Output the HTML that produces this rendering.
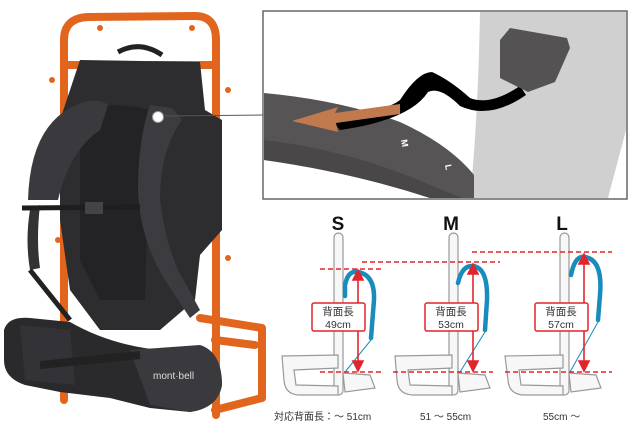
<!DOCTYPE html>
<html><head><meta charset="utf-8"><style>
body{margin:0;background:#fff}
svg{display:block}
text{font-family:"Liberation Sans","Noto Sans CJK JP",sans-serif}
</style></head><body>
<svg width="640" height="437" viewBox="0 0 640 437" xmlns="http://www.w3.org/2000/svg">
<!-- Backpack frame -->
<g fill="none" stroke="#e2651e" stroke-width="8" stroke-linejoin="round" stroke-linecap="round">
<path d="M64 400 L64 40 Q64 18 88 17 L195 16 Q216 16 216 40 L216 415"/>
<path d="M66 65 L212 65"/>
<path d="M200 318 L262 328 L262 398 L215 410"/>
<path d="M215 340 L255 345"/>
</g>
<g fill="#e2651e"><circle cx="52" cy="80" r="3"/><circle cx="228" cy="90" r="3"/><circle cx="58" cy="240" r="3"/><circle cx="228" cy="258" r="3"/><circle cx="100" cy="28" r="3"/><circle cx="192" cy="28" r="3"/></g>
<!-- pack body -->
<path d="M118 52 Q140 40 162 55" fill="none" stroke="#222" stroke-width="5"/>
<path d="M80 60 L200 62 L205 110 L222 120 L222 230 L200 255 L195 300 L160 330 L100 330 L70 290 L60 220 L60 120 Z" fill="#2d2d30"/>
<path d="M80 110 Q110 100 150 110 L145 300 L100 300 L80 260 Z" fill="#232325"/>
<!-- shoulder straps -->
<path d="M28 200 Q30 130 70 108 Q95 95 108 105 L100 130 Q70 150 58 200 Z" fill="#3a3a3e"/>
<path d="M30 210 Q25 240 30 270 L40 268 Q36 240 40 205 Z" fill="#333"/>
<path d="M150 105 L172 108 L182 120 Q160 150 160 200 Q165 240 178 270 L200 310 L190 318 L165 280 Q140 240 138 190 Q138 140 150 105 Z" fill="#3c3c40"/>
<path d="M30 270 L70 320" stroke="#222" stroke-width="5"/>
<path d="M22 208 L140 207" stroke="#1e1e1e" stroke-width="5"/>
<rect x="85" y="202" width="18" height="12" fill="#444"/>
<!-- hip belt -->
<path d="M4 330 Q8 316 30 318 L70 322 Q110 345 160 350 L200 348 Q222 355 222 385 Q218 408 190 412 L150 408 L110 398 L60 392 L25 385 Q4 378 4 360 Z" fill="#2a2a2c"/>
<path d="M20 325 L70 330 L75 385 L25 380 Z" fill="#333337"/>
<path d="M130 350 L200 345 Q222 352 222 385 Q218 408 190 412 L150 405 Z" fill="#3a3a3e"/>
<path d="M40 365 L140 355" stroke="#222" stroke-width="8"/>
<text x="153" y="379" font-size="10" fill="#ddd" font-family="Liberation Serif,serif">mont·bell</text>
<circle cx="158" cy="117" r="5.5" fill="#fff" stroke="#999"/>
<line x1="163" y1="116" x2="263" y2="115" stroke="#555" stroke-width="1"/>

<!-- detail box -->
<rect x="263" y="11" width="364" height="188" fill="#fff" stroke="#666" stroke-width="1.5"/>
<path d="M480 12 L626 12 L626 130 L608 198 L470 198 Q478 120 480 12 Z" fill="#d0d0d0"/>
<path d="M264 93 Q340 100 400 122 Q450 145 474 175 L474 198 L430 198 Q350 172 264 160 Z" fill="#575455"/>
<path d="M264 140 Q350 150 430 185 L462 198 L430 198 Q350 172 264 160 Z" fill="#4a4748"/>
<path d="M330 118 Q385 112 400 100 Q418 72 432 72 Q450 80 470 98 Q490 106 520 86 L526 95 Q490 120 460 106 Q440 86 428 92 Q410 120 340 130 Z" fill="#000"/>
<path d="M500 40 L510 28 L567 38 L570 48 L555 82 L528 92 L500 78 Z" fill="#555253"/>
<path d="M292 121 L338 107 L335 113 L400 104 L400 114 L336 123 L338 132 Z" fill="#c07a4e"/>
<text x="401" y="140" font-size="9" font-weight="bold" fill="#fff" transform="rotate(80 401 140)">M</text>
<text x="445" y="165" font-size="9" font-weight="bold" fill="#fff" transform="rotate(80 445 165)">L</text>

<!-- size diagrams -->
<g stroke="#999" stroke-width="1.2" fill="#f7f7f7">
<rect x="334" y="233" width="9" height="162" rx="4.5"/>
<path d="M282 356 L338 355 L338 368 L294 370 L296 385 L338 386 L338 395 L300 395 Q285 395 284 380 Z"/>
<path d="M343 373 L370 375 L375 388 L345 392 Z"/>
<rect x="449" y="233" width="9" height="162" rx="4.5"/>
<path d="M395 356 L452 355 L452 368 L408 370 L410 385 L452 386 L452 395 L414 395 Q398 395 397 380 Z"/>
<path d="M458 373 L485 375 L490 388 L460 392 Z"/>
<rect x="560" y="233" width="9" height="162" rx="4.5"/>
<path d="M505 356 L563 355 L563 368 L519 370 L521 385 L563 386 L563 395 L525 395 Q509 395 508 380 Z"/>
<path d="M569 373 L596 375 L601 388 L571 392 Z"/>
</g>
<g fill="none" stroke="#1a8bbd" stroke-width="4.5" stroke-linecap="round">
<path d="M345 296 L345 285 Q348 270 358 272 Q375 275 374 300 L371 338"/>
<path d="M458 283 Q462 265 473 266 Q488 268 487 300 L485 330"/>
<path d="M571 275 Q575 255 585 257 Q603 260 600 295 L598 320"/>
</g>
<g stroke="#1a8bbd" stroke-width="1">
<line x1="371" y1="340" x2="345" y2="372"/><line x1="485" y1="332" x2="460" y2="372"/><line x1="598" y1="322" x2="570" y2="372"/>
</g>
<g stroke="#e2252b" stroke-width="1.6" stroke-dasharray="5,3">
<line x1="320" y1="269" x2="382" y2="269"/><line x1="362" y1="262" x2="500" y2="262"/><line x1="472" y1="252" x2="612" y2="252"/>
<line x1="320" y1="372" x2="383" y2="372"/><line x1="393" y1="372" x2="493" y2="372"/><line x1="505" y1="372" x2="612" y2="372"/>
</g>
<g stroke="#e2252b" stroke-width="1.6" fill="#e2252b">
<line x1="358" y1="278" x2="358" y2="362"/><path d="M353 280 L358 270 L363 280Z M353 361 L358 371 L363 361Z"/>
<line x1="473" y1="272" x2="473" y2="362"/><path d="M468 274 L473 264 L478 274Z M468 361 L473 371 L478 361Z"/>
<line x1="584" y1="262" x2="584" y2="362"/><path d="M579 264 L584 254 L589 264Z M579 361 L584 371 L589 361Z"/>
</g>
<g fill="#fff" stroke="#e2252b" stroke-width="1.5">
<rect x="312" y="303" width="53" height="28" rx="2"/><rect x="425" y="303" width="53" height="28" rx="2"/><rect x="535" y="303" width="53" height="28" rx="2"/>
</g>
<g font-size="10.5" fill="#333" text-anchor="middle">
<text x="338" y="315">背面長</text><text x="338" y="328">49cm</text>
<text x="451" y="315">背面長</text><text x="451" y="328">53cm</text>
<text x="561" y="315">背面長</text><text x="561" y="328">57cm</text>
</g>
<g font-size="19" font-weight="bold" fill="#111" text-anchor="middle">
<text x="338" y="230">S</text><text x="451" y="230">M</text><text x="562" y="230">L</text>
</g>
<g font-size="10" fill="#333">
<text x="274" y="420">対応背面長：～ 51cm</text>
<text x="420" y="420">51 ～ 55cm</text>
<text x="543" y="420">55cm ～</text>
</g>
</svg>
</body></html>
